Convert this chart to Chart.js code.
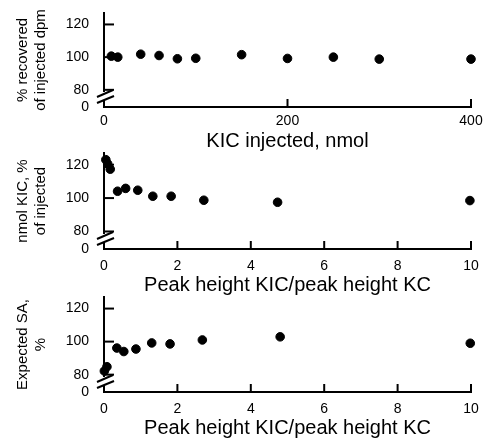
<!DOCTYPE html>
<html>
<head>
<meta charset="utf-8">
<script src="https://cdn.jsdelivr.net/npm/chart.js@4/dist/chart.umd.min.js"></script>
<style>
  html, body { margin: 0; padding: 0; background: #fff; }
  #wrap { position: relative; width: 484px; height: 441px; }
  #wrap canvas { position: absolute; left: 0; top: 0; }
</style>
</head>
<body>
<div id="wrap">
  <canvas id="c1" width="484" height="441"></canvas>
  <canvas id="c2" width="484" height="441"></canvas>
  <canvas id="c3" width="484" height="441"></canvas>
</div>
<script>
// ---- Data ----
const injectedKIC   = [8, 15, 40, 60, 80, 100, 150, 200, 250, 300, 400];
const recoveredDpm  = [100.6, 100, 101.8, 101, 99, 99.3, 101.5, 99.2, 100, 98.8, 98.8];

const ratioA        = [0.05, 0.1, 0.17, 0.37, 0.59, 0.92, 1.33, 1.83, 2.72, 4.73, 9.97];
const nmolKIC       = [123, 120.5, 117.3, 104.1, 105.8, 104.7, 101.1, 101.1, 98.7, 97.5, 98.5];

const ratioB        = [0.01, 0.08, 0.35, 0.54, 0.87, 1.3, 1.8, 2.68, 4.8, 9.98];
const expectedSA    = [82.2, 84.8, 96.1, 94, 95.5, 99.2, 98.6, 101, 102.9, 99];

const yTickValues   = [80, 100, 120];
const yBreakLabel   = '0';
const xTicksTop     = [0, 200, 400];
const xTicksRatio   = [0, 2, 4, 6, 8, 10];

const yTitle1 = ['% recovered', 'of injected dpm'];
const yTitle2 = ['nmol KIC, %', 'of injected'];
const yTitle3 = ['Expected SA,', '%'];
const xTitle1 = 'KIC injected, nmol';
const xTitle2 = 'Peak height KIC/peak height KC';
const xTitle3 = 'Peak height KIC/peak height KC';

// ---- Chart construction ----
const FONT = '"Liberation Sans", Arial, Helvetica, sans-serif';
const Y_MIN = 69.5, Y_MAX = 127;

const axisDecor = {
  id: 'axisDecor',
  afterDraw(chart) {
    const ctx = chart.ctx;
    const xs = chart.scales.x, ys = chart.scales.y;
    const L = chart.chartArea.left, B = chart.chartArea.bottom;
    ctx.save();
    ctx.strokeStyle = '#000';
    ctx.lineWidth = 2;
    // inward y ticks
    yTickValues.forEach(v => {
      const py = ys.getPixelForValue(v);
      ctx.beginPath(); ctx.moveTo(L, py); ctx.lineTo(L + 10, py); ctx.stroke();
    });
    // inward x ticks (skip 0)
    xs.ticks.forEach(t => {
      if (t.value === 0) return;
      const px = xs.getPixelForValue(t.value);
      ctx.beginPath(); ctx.moveTo(px, B); ctx.lineTo(px, B - 8); ctx.stroke();
    });
    // axis break
    ctx.fillStyle = '#fff';
    ctx.fillRect(L - 3, B - 15, 6, 8);
    ctx.beginPath(); ctx.moveTo(L - 7, B - 10); ctx.lineTo(L + 9, B - 17); ctx.stroke();
    ctx.beginPath(); ctx.moveTo(L - 7, B - 4); ctx.lineTo(L + 10, B - 11); ctx.stroke();
    ctx.restore();
  }
};

function makePanel(id, xs, ys, xMax, xTicks, yTitle, xTitle, pad, xHeight, xTickPad) {
  new Chart(document.getElementById(id), {
    type: 'scatter',
    data: {
      datasets: [{
        data: xs.map((x, i) => ({x: x, y: ys[i]})),
        backgroundColor: '#000',
        borderColor: '#000',
        pointRadius: 4.3,
        pointHoverRadius: 4.3,
        clip: false
      }]
    },
    options: {
      responsive: false,
      animation: false,
      events: [],
      layout: { padding: pad },
      plugins: { legend: { display: false }, tooltip: { enabled: false } },
      scales: {
        x: {
          type: 'linear',
          min: 0, max: xMax,
          afterBuildTicks: s => { s.ticks = xTicks.map(v => ({value: v})); },
          afterFit: s => { s.height = xHeight; s.paddingLeft = 0; s.paddingRight = 0; },
          grid: { display: false, drawTicks: false },
          border: { display: true, color: '#000', width: 2 },
          ticks: { color: '#000', padding: xTickPad, maxRotation: 0,
                   font: { family: FONT, size: 14 } },
          title: { display: true, text: xTitle, color: '#000',
                   font: { family: FONT, size: 20, lineHeight: 1.2 },
                   padding: { top: 0, bottom: 0 } }
        },
        y: {
          type: 'linear',
          min: Y_MIN, max: Y_MAX,
          afterBuildTicks: s => { s.ticks = [{value: Y_MIN}].concat(yTickValues.map(v => ({value: v}))); },
          afterFit: s => { s.width = 104; s.paddingTop = 0; s.paddingBottom = 0; },
          grid: { display: false, drawTicks: false },
          border: { display: true, color: '#000', width: 2 },
          ticks: { color: '#000', padding: 15,
                   font: { family: FONT, size: 14 },
                   callback: v => (v === Y_MIN ? yBreakLabel : String(v)) },
          title: { display: true, text: yTitle, color: '#000',
                   font: { family: FONT, size: 15, lineHeight: 1.2 },
                   padding: { top: 14, bottom: 0 } }
        }
      }
    },
    plugins: [axisDecor]
  });
}

makePanel('c1', injectedKIC, recoveredDpm, 400, xTicksTop, yTitle1, xTitle1,
          {left: 0, right: 13, top: 13, bottom: 288}, 46, 6);
makePanel('c2', ratioA, nmolKIC, 10, xTicksRatio, yTitle2, xTitle2,
          {left: 0, right: 13, top: 153, bottom: 144}, 48, 9);
makePanel('c3', ratioB, expectedSA, 10, xTicksRatio, yTitle3, xTitle3,
          {left: 0, right: 13, top: 297, bottom: 1}, 48, 9);
</script>
</body>
</html>
